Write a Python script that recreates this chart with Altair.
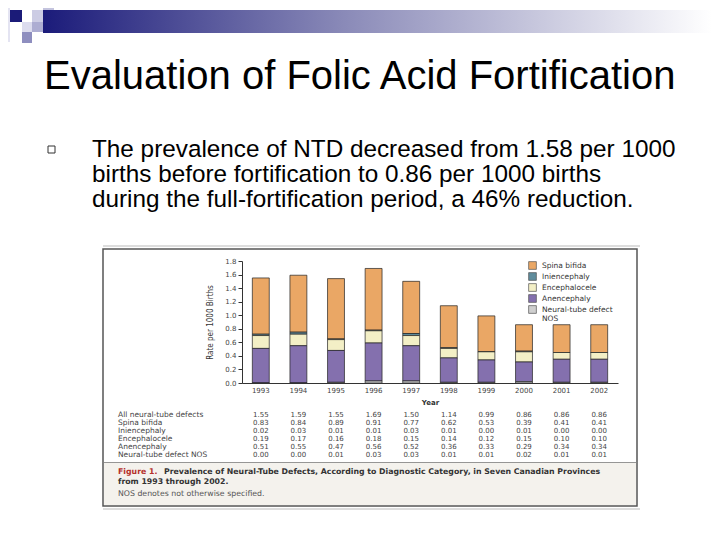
import altair as alt
import pandas as pd

# ---------------- data ----------------
years = ["1993", "1994", "1995", "1996", "1997", "1998", "1999", "2000", "2001", "2002"]
total = [1.55, 1.59, 1.55, 1.69, 1.50, 1.14, 0.99, 0.86, 0.86, 0.86]
spina = [0.83, 0.84, 0.89, 0.91, 0.77, 0.62, 0.53, 0.39, 0.41, 0.41]
inien = [0.02, 0.03, 0.01, 0.01, 0.03, 0.01, 0.00, 0.01, 0.00, 0.00]
enceph = [0.19, 0.17, 0.16, 0.18, 0.15, 0.14, 0.12, 0.15, 0.10, 0.10]
anen = [0.51, 0.55, 0.47, 0.56, 0.52, 0.36, 0.33, 0.29, 0.34, 0.34]
nos = [0.00, 0.00, 0.01, 0.03, 0.03, 0.01, 0.01, 0.02, 0.01, 0.01]

categories = ["Spina bifida", "Iniencephaly", "Encephalocele", "Anencephaly", "Neural-tube defect NOS"]
cat_colors = ["#eaa765", "#5f8c9c", "#f3efc6", "#8470ae", "#cfcfcf"]
series = [spina, inien, enceph, anen, nos]

table_labels = ["All neural-tube defects", "Spina bifida", "Iniencephaly",
                "Encephalocele", "Anencephaly", "Neural-tube defect NOS"]
table_rows = [total, spina, inien, enceph, anen, nos]

title_text = "Evaluation of Folic Acid Fortification"
bullet_lines = ["The prevalence of NTD decreased from 1.58 per 1000",
                "births before fortification to 0.86 per 1000 births",
                "during the full-fortification period, a 46% reduction."]
caption_red = "Figure 1."
caption_bold = ["Prevalence of Neural-Tube Defects, According to Diagnostic Category, in Seven Canadian Provinces",
                "from 1993 through 2002."]
caption_note = "NOS denotes not otherwise specified."
y_title = "Rate per 1000 Births"
x_title = "Year"

# ---------------- layout helpers ----------------
OX, OY = 242, 261           # page position of plot origin
W, H = 376, 122


def rx(px):
    return px - OX


def ry(py):
    return py - OY


one = pd.DataFrame({"k": [0]})
FIG_FONT = "DejaVu Sans"

rows = []
for ci, (cat, vals) in enumerate(zip(categories, series)):
    for y, v in zip(years, vals):
        rows.append({"year": y, "category": cat, "value": v, "order": len(categories) - ci})
bars_df = pd.DataFrame(rows)


def rect(x1, x2, y1, y2, **kw):
    return alt.Chart(one).mark_rect(**kw).encode(
        x=alt.value(rx(x1)), x2=alt.value(rx(x2)), y=alt.value(ry(y1)), y2=alt.value(ry(y2)))


def text(s, x, y, **kw):
    return alt.Chart(one).mark_text(baseline="alphabetic", **kw).encode(
        x=alt.value(rx(x)), y=alt.value(ry(y)), text=alt.value(s))


layers = []

# slide decoration
layers.append(rect(43, 712, 10, 33, fill=alt.Gradient(
    gradient="linear", x1=0, x2=1, y1=0, y2=0,
    stops=[alt.GradientStop(offset=0, color="#1b1b7a"),
           alt.GradientStop(offset=0.45, color="#8a8ab8"),
           alt.GradientStop(offset=1, color="#ffffff")])))
layers.append(rect(0, 10, 0, 42, fill="#e4e4f2"))
layers.append(rect(10, 22, 10, 22, fill="#1b1b78"))
layers.append(rect(32, 43, 10, 22, fill="#ccccE4"))
layers.append(rect(43, 54, 0, 10, fill="#c4c4de"))
layers.append(rect(22, 32, 22, 32, fill="#dcdcee"))
layers.append(rect(32, 43, 22, 32, fill="#adadd2"))
layers.append(rect(22, 32, 32, 43, fill="#8e8ebf"))

# title and bullet
layers.append(text(title_text, 44, 89, align="left", font="Liberation Sans", fontSize=40, color="#000000"))
layers.append(rect(48, 55, 146, 153, fill="#ffffff", stroke="#333333", strokeWidth=1))
for i, line in enumerate(bullet_lines):
    layers.append(text(line, 92, 157 + 25 * i, align="left", font="Liberation Sans", fontSize=24.3, color="#000000"))

# figure frame
layers.append(rect(103, 640, 245, 247, fill="#dddddd"))
layers.append(rect(103, 640, 508, 510, fill="#dddddd"))
layers.append(rect(103, 637, 249, 506, fill="#ffffff", stroke="#555555", strokeWidth=1.5))
layers.append(rect(104, 636, 462, 505, fill="#f4f2ed"))
layers.append(rect(104, 636, 462, 462.8, fill="#777777"))

# bars
bars = alt.Chart(bars_df).mark_bar(stroke="#222222", strokeWidth=0.7).encode(
    x=alt.X("year:N", sort=years,
            scale=alt.Scale(paddingInner=0.55, paddingOuter=0.275),
            axis=alt.Axis(title=x_title, labelAngle=0, ticks=False, labelFont=FIG_FONT,
                          labelFontSize=7, labelColor="#444444", labelPadding=3,
                          domainColor="#333333", titleFont=FIG_FONT, titleFontSize=7,
                          titleFontWeight="bold", titleColor="#333333", titlePadding=5,
                          zindex=2)),
    y=alt.Y("value:Q", stack="zero",
            scale=alt.Scale(domain=[0, 1.8], nice=False),
            axis=alt.Axis(title=y_title, values=[0, 0.2, 0.4, 0.6, 0.8, 1.0, 1.2, 1.4, 1.6, 1.8],
                          format=".1f", grid=False, labelFont=FIG_FONT, labelFontSize=7,
                          labelColor="#444444", tickSize=4, tickColor="#333333",
                          domainColor="#333333", titleFont="DejaVu Sans Condensed",
                          titleFontSize=8, titleFontWeight="normal", titleColor="#333333",
                          titlePadding=10, zindex=2)),
    color=alt.Color("category:N",
                    scale=alt.Scale(domain=categories, range=cat_colors),
                    legend=alt.Legend(orient="none", legendX=286, legendY=0, title=None,
                                      symbolType="square", symbolSize=60,
                                      symbolStrokeColor="#555555", symbolStrokeWidth=0.7,
                                      symbolOpacity=1, labelFont=FIG_FONT, labelFontSize=7.5,
                                      labelColor="#333333", rowPadding=0, labelOffset=5,
                                      labelExpr="datum.label == 'Neural-tube defect NOS' ? ['Neural-tube defect', 'NOS'] : datum.label")),
    order=alt.Order("order:Q", sort="ascending"),
)
layers.append(bars)

# table
for i, (lab, vals) in enumerate(zip(table_labels, table_rows)):
    yy = 416.5 + 8.1 * i
    layers.append(text(lab, 118, yy, align="left", font=FIG_FONT, fontSize=7.5, color="#444444"))
    tdf = pd.DataFrame({"year": years, "v": [f"{v:.2f}" for v in vals]})
    layers.append(alt.Chart(tdf).mark_text(baseline="alphabetic", align="center", font=FIG_FONT,
                                           fontSize=7, color="#444444").encode(
        x=alt.X("year:N", sort=years), y=alt.value(ry(yy)), text="v:N"))

# caption
layers.append(text(caption_red, 118, 474, align="left", font=FIG_FONT, fontSize=7.8,
                   fontWeight="bold", color="#b5302a"))
layers.append(text(caption_bold[0], 164, 474, align="left", font=FIG_FONT, fontSize=7.8,
                   fontWeight="bold", color="#333333"))
layers.append(text(caption_bold[1], 118, 484, align="left", font=FIG_FONT, fontSize=7.8,
                   fontWeight="bold", color="#333333"))
layers.append(text(caption_note, 118, 496, align="left", font=FIG_FONT, fontSize=7.8, color="#555555"))

chart = alt.layer(*layers).properties(
    width=W, height=H,
    autosize=alt.AutoSizeParams(type="none"),
    padding={"left": OX - 8, "top": OY - 8, "right": 704 - (OX - 8) - W, "bottom": 524 - (OY - 8) - H},
    background="#ffffff",
).configure_view(stroke=None)

chart.save("out.html", embed_options={"renderer": "svg", "actions": False})
